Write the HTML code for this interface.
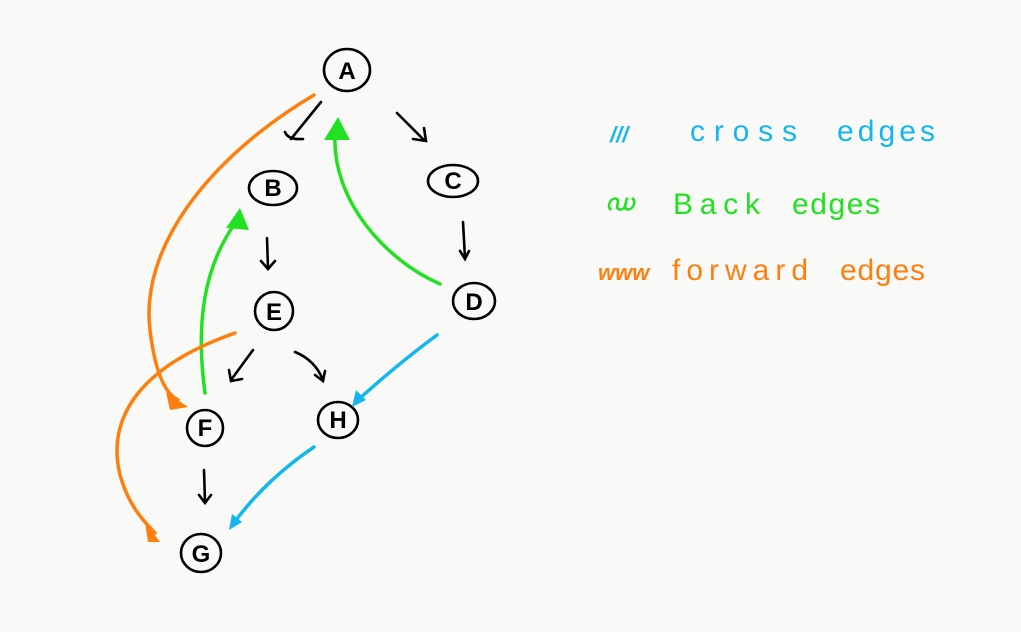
<!DOCTYPE html>
<html><head><meta charset="utf-8"><style>
html,body{margin:0;padding:0;background:#f9f9f7;}
svg{display:block}
text{font-family:"Liberation Sans",sans-serif;}
</style></head><body>
<svg width="1021" height="632" viewBox="0 0 1021 632" xmlns="http://www.w3.org/2000/svg">
<rect width="1021" height="632" fill="#f9f9f7"/>
<g fill="none" stroke="#000" stroke-width="2.6" stroke-linecap="round">
<ellipse cx="347" cy="70" rx="23" ry="21"/>
<ellipse cx="273" cy="188" rx="24" ry="17"/>
<ellipse cx="453" cy="181" rx="25" ry="16"/>
<ellipse cx="474" cy="301" rx="21" ry="18"/>
<ellipse cx="274" cy="311" rx="19" ry="19"/>
<ellipse cx="205" cy="428" rx="18" ry="18"/>
<ellipse cx="338" cy="420" rx="20" ry="18"/>
<ellipse cx="201" cy="553" rx="20" ry="19"/>
<path d="M321,102 L291,139 M285,132 Q288,140 303,139"/>
<path d="M397,113 L424,140 M424,128 L426,141 L413,139"/>
<path d="M267,238 L268,268 M261,261 L268,269 L275,261"/>
<path d="M463,222 L465,258 M460,251 L465,259 L469,251"/>
<path d="M253,350 L231,380 M229,370 L231,381 L242,379"/>
<path d="M295,352 Q315,360 323,380 M315,375 L323,381 L325,371"/>
<path d="M204,470 L205,502 M199,495 L205,503 L211,495"/>
</g>
<g font-size="24" font-weight="bold" text-anchor="middle" fill="#000">
<text x="347" y="79">A</text><text x="273" y="196">B</text><text x="453" y="189">C</text>
<text x="474" y="310">D</text><text x="274" y="320">E</text><text x="205" y="436">F</text>
<text x="338" y="428">H</text><text x="201" y="562">G</text>
</g>
<g fill="none" stroke-width="3.5" stroke-linecap="round">
<path stroke="#22e022" d="M440,284 C385,260 332,200 335,135"/>
<path stroke="#22e022" d="M205,393 C195,320 205,265 236,222"/>
<path stroke="#ff7f0e" d="M314,95 C205,160 140,250 150,330 C156,380 168,395 178,400"/>
<path stroke="#ff7f0e" d="M235,333 C130,370 108,425 120,475 C130,510 148,525 155,533"/>
<path stroke="#15b5f0" d="M437,335 C410,355 380,380 358,400"/>
<path stroke="#15b5f0" d="M314,447 C280,470 255,495 236,520"/>
</g>
<polygon fill="#22e022" points="338,117 324,140 350,140"/>
<polygon fill="#22e022" points="240,208 226,228 249,230"/>
<polygon fill="#ff7f0e" points="188,407 166,392 170,410"/>
<polygon fill="#ff7f0e" points="160,542 145,522 148,542"/>
<polygon fill="#15b5f0" points="352,407 356,390 366,400"/>
<polygon fill="#15b5f0" points="229,530 232,514 242,522"/>
<g font-size="30">
<text x="690" y="141" fill="#15b5f0" textLength="107" lengthAdjust="spacing">cross</text>
<text x="837" y="141" fill="#15b5f0" textLength="98" lengthAdjust="spacing">edges</text>
<text x="673" y="214" fill="#22e022" textLength="87" lengthAdjust="spacing">Back</text>
<text x="792" y="214" fill="#22e022" textLength="88" lengthAdjust="spacing">edges</text>
<text x="672" y="280" fill="#ff7f0e" textLength="136" lengthAdjust="spacing">forward</text>
<text x="840" y="280" fill="#ff7f0e" textLength="85" lengthAdjust="spacing">edges</text>
</g>
<g font-size="22" font-weight="bold" font-style="italic">
<text x="610" y="142" fill="#15b5f0">///</text>
<text x="605" y="210" fill="#22e022">ഡ</text>
<text x="598" y="280" fill="#ff7f0e">www</text>
</g>
</svg>
</body></html>
